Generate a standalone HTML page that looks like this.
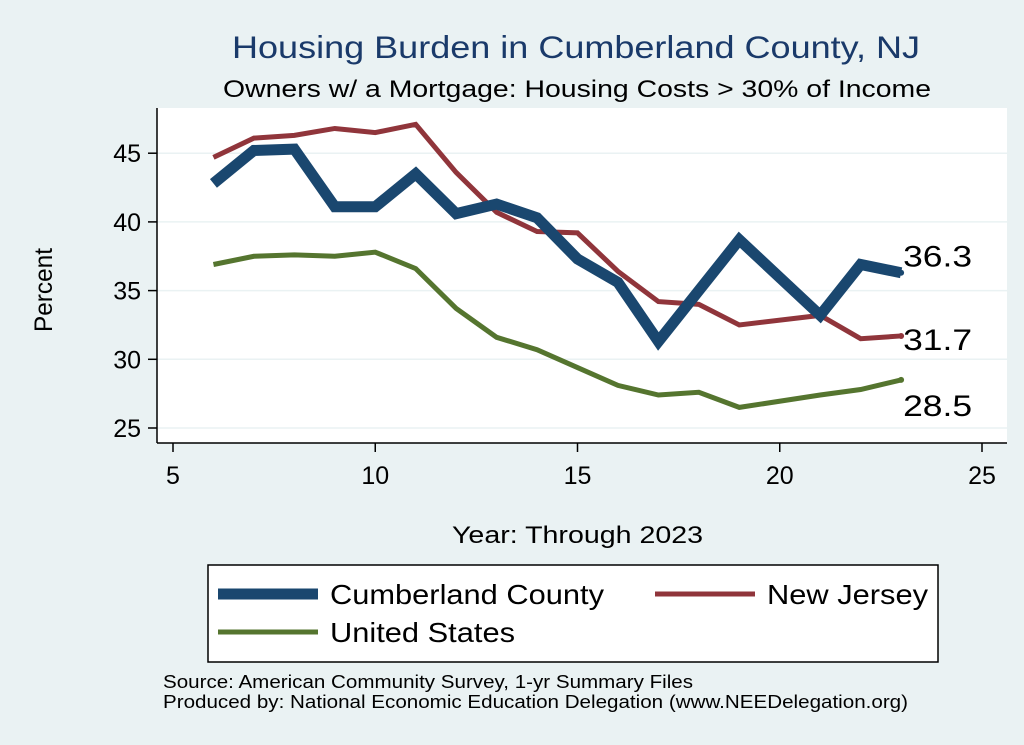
<!DOCTYPE html>
<html><head><meta charset="utf-8"><style>
body{margin:0;background:#eaf2f3;}
svg{display:block;font-family:"Liberation Sans",sans-serif;}
</style></head><body>
<svg width="1024" height="745" viewBox="0 0 1024 745">
<rect width="1024" height="745" fill="#eaf2f3"/>
<text x="232" y="58" font-size="31.5" fill="#1a3a6a" textLength="688" lengthAdjust="spacingAndGlyphs">Housing Burden in Cumberland County, NJ</text>
<text x="223" y="97" font-size="24" fill="#000" textLength="708" lengthAdjust="spacingAndGlyphs">Owners w/ a Mortgage: Housing Costs &gt; 30% of Income</text>
<rect x="157" y="108" width="850" height="335" fill="#fff"/>
<g id="grid"></g>
<g id="axes"></g>
<g id="series"></g>
<text x="52" y="332" font-size="25" textLength="84" lengthAdjust="spacingAndGlyphs" transform="rotate(-90 52 332)">Percent</text>
<text x="452" y="543" font-size="24" textLength="251" lengthAdjust="spacingAndGlyphs">Year: Through 2023</text>
<g>
<rect x="208" y="565" width="730" height="97" fill="#fff" stroke="#000" stroke-width="1.5"/>
<line x1="218" y1="594" x2="318" y2="594" stroke="#1a476f" stroke-width="11"/>
<text x="330" y="604" font-size="28" textLength="274" lengthAdjust="spacingAndGlyphs">Cumberland County</text>
<line x1="655" y1="594" x2="755" y2="594" stroke="#90353b" stroke-width="5"/>
<text x="767" y="604" font-size="28" textLength="161" lengthAdjust="spacingAndGlyphs">New Jersey</text>
<line x1="218" y1="632" x2="318" y2="632" stroke="#55752f" stroke-width="5"/>
<text x="330" y="642" font-size="28" textLength="185" lengthAdjust="spacingAndGlyphs">United States</text>
</g>
<text x="163" y="688" font-size="18" textLength="530" lengthAdjust="spacingAndGlyphs">Source: American Community Survey, 1-yr Summary Files</text>
<text x="163" y="708" font-size="18" textLength="745" lengthAdjust="spacingAndGlyphs">Produced by: National Economic Education Delegation (www.NEEDelegation.org)</text>
</svg>
<script>
const years=[6,7,8,9,10,11,12,13,14,15,16,17,18,19,21,22,23];
const cumberland=[42.8,45.2,45.3,41.1,41.1,43.5,40.6,41.3,40.3,37.3,35.6,31.3,35.0,38.7,33.2,36.9,36.3];
const newJersey=[44.7,46.1,46.3,46.8,46.5,47.1,43.6,40.7,39.3,39.2,36.4,34.2,34.0,32.5,33.2,31.5,31.7];
const unitedStates=[36.9,37.5,37.6,37.5,37.8,36.6,33.7,31.6,30.7,29.4,28.1,27.4,27.6,26.5,27.4,27.8,28.5];
const xTicks=[5,10,15,20,25];
const yTicks=[25,30,35,40,45];
const NS="http://www.w3.org/2000/svg";
const xs=v=>173+(v-5)*40.45;
const ys=v=>428-(v-25)*13.74;
function mk(tag,attrs,parent){const e=document.createElementNS(NS,tag);for(const k in attrs)e.setAttribute(k,attrs[k]);parent.appendChild(e);return e;}
const grid=document.getElementById('grid'),axes=document.getElementById('axes'),ser=document.getElementById('series');
yTicks.forEach(t=>{
 const g=mk('line',{x1:157,x2:1007,y1:ys(t),y2:ys(t),stroke:'#eaf2f3','stroke-width':1.5},grid);
 
 
 const tk=mk('line',{x1:148,x2:157,y1:ys(t),y2:ys(t),stroke:'#000','stroke-width':1.5},axes);
 
 
 const tx=mk('text',{x:141,y:ys(t)+9,'font-size':25,'text-anchor':'end'},axes);
 tx.textContent=t;
 
 
});
xTicks.forEach(t=>{
 const tk=mk('line',{x1:xs(t),x2:xs(t),y1:443,y2:452,stroke:'#000','stroke-width':1.5},axes);
 
 
 const tx=mk('text',{x:xs(t),y:484,'font-size':25,'text-anchor':'middle'},axes);
 tx.textContent=t;
 
 
});
const ya=mk('line',{x1:157,x2:157,y1:108,y2:443,stroke:'#000','stroke-width':1.5},axes);


const xa=mk('line',{x1:157,x2:1007,y1:443,y2:443,stroke:'#000','stroke-width':1.5},axes);


function line(vals,color,w,name){
 const p=mk('polyline',{points:years.map((y,i)=>xs(y)+','+ys(vals[i])).join(' '),fill:'none',stroke:color,'stroke-width':w,'stroke-linejoin':'miter'},ser);
 
 
 const last=vals[vals.length-1];
 const d=mk('circle',{cx:xs(years[years.length-1]),cy:ys(last),r:3,fill:color},ser);
 
 
 const t=mk('text',{x:xs(years[years.length-1])+2,y:ys(last)+(name==='us'?36:(name==='nj'?14:-6)),'font-size':30,textLength:69,lengthAdjust:'spacingAndGlyphs'},ser);
 t.textContent=last.toFixed(1);
 
 
}
line(unitedStates,'#55752f',5,'us');
line(newJersey,'#90353b',5,'nj');
line(cumberland,'#1a476f',11,'cumberland');
</script>
</body></html>
